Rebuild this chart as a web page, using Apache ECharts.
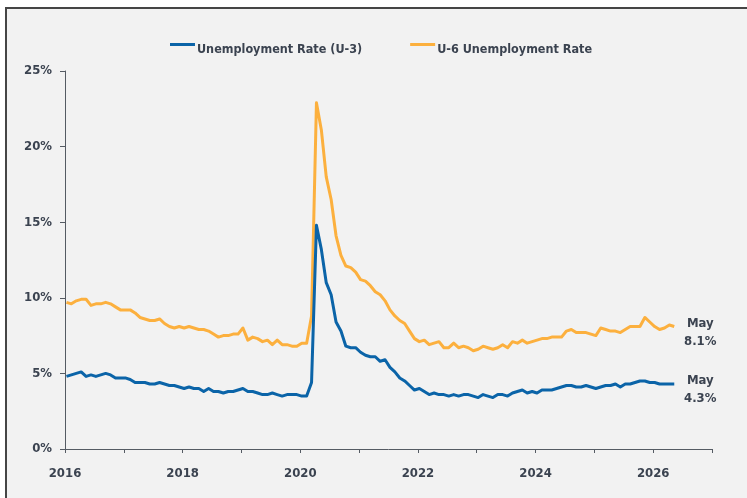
<!DOCTYPE html>
<html>
<head>
<meta charset="utf-8">
<script src="https://cdn.jsdelivr.net/npm/echarts@6/dist/echarts.min.js"></script>
<style>
  html, body { margin: 0; padding: 0; background: #ffffff; }
  #frame { position: absolute; left: 5px; top: 7px; width: 742px; height: 491px;
           background: #f2f2f2; border-top: 2px solid #454545; border-left: 2px solid #454545; box-sizing: border-box; }
  #chart { position: absolute; left: 0; top: 0; width: 747px; height: 498px; }
</style>
</head>
<body>
<div id="frame"></div>
<div id="chart"></div>
<script>
// ---- Data (monthly, starting Jan 2016, ending May 2026) ----
const startYear = 2016;
const monthNames = ['Jan','Feb','Mar','Apr','May','Jun','Jul','Aug','Sep','Oct','Nov','Dec'];
const seriesNames = ['Unemployment Rate (U-3)', 'U-6 Unemployment Rate'];
const yTicks = [0, 5, 10, 15, 20, 25];
const xYearLabels = [2016, 2018, 2020, 2022, 2024, 2026];

const u3 = [
  4.8, 4.9, 5.0, 5.1, 4.8, 4.9, 4.8, 4.9, 5.0, 4.9, 4.7, 4.7,
  4.7, 4.6, 4.4, 4.4, 4.4, 4.3, 4.3, 4.4, 4.3, 4.2, 4.2, 4.1,
  4.0, 4.1, 4.0, 4.0, 3.8, 4.0, 3.8, 3.8, 3.7, 3.8, 3.8, 3.9,
  4.0, 3.8, 3.8, 3.7, 3.6, 3.6, 3.7, 3.6, 3.5, 3.6, 3.6, 3.6,
  3.5, 3.5, 4.4, 14.8, 13.2, 11.0, 10.2, 8.4, 7.8, 6.8, 6.7, 6.7,
  6.4, 6.2, 6.1, 6.1, 5.8, 5.9, 5.4, 5.1, 4.7, 4.5, 4.2, 3.9,
  4.0, 3.8, 3.6, 3.7, 3.6, 3.6, 3.5, 3.6, 3.5, 3.6, 3.6, 3.5,
  3.4, 3.6, 3.5, 3.4, 3.6, 3.6, 3.5, 3.7, 3.8, 3.9, 3.7, 3.8,
  3.7, 3.9, 3.9, 3.9, 4.0, 4.1, 4.2, 4.2, 4.1, 4.1, 4.2, 4.1,
  4.0, 4.1, 4.2, 4.2, 4.3, 4.1, 4.3, 4.3, 4.4, 4.5, 4.5, 4.4,
  4.4, 4.3, 4.3, 4.3, 4.3
];

const u6 = [
  9.7, 9.6, 9.8, 9.9, 9.9, 9.5, 9.6, 9.6, 9.7, 9.6, 9.4, 9.2,
  9.2, 9.2, 9.0, 8.7, 8.6, 8.5, 8.5, 8.6, 8.3, 8.1, 8.0, 8.1,
  8.0, 8.1, 8.0, 7.9, 7.9, 7.8, 7.6, 7.4, 7.5, 7.5, 7.6, 7.6,
  8.0, 7.2, 7.4, 7.3, 7.1, 7.2, 6.9, 7.2, 6.9, 6.9, 6.8, 6.8,
  7.0, 7.0, 8.8, 22.9, 21.1, 18.0, 16.5, 14.1, 12.8, 12.1, 12.0, 11.7,
  11.2, 11.1, 10.8, 10.4, 10.2, 9.8, 9.2, 8.8, 8.5, 8.3, 7.8, 7.3,
  7.1, 7.2, 6.9, 7.0, 7.1, 6.7, 6.7, 7.0, 6.7, 6.8, 6.7, 6.5,
  6.6, 6.8, 6.7, 6.6, 6.7, 6.9, 6.7, 7.1, 7.0, 7.2, 7.0, 7.1,
  7.2, 7.3, 7.3, 7.4, 7.4, 7.4, 7.8, 7.9, 7.7, 7.7, 7.7, 7.6,
  7.5, 8.0, 7.9, 7.8, 7.8, 7.7, 7.9, 8.1, 8.1, 8.1, 8.7, 8.4,
  8.1, 7.9, 8.0, 8.2, 8.1
];

// observation day within month (~10th)
const obsDay = 10;
function toSeries(arr) {
  return arr.map((v, i) => [startYear + (i + (obsDay - 1) / 30) / 12, v]);
}

const textColor = '#3b4350';
const fontFam = "'Liberation Sans Narrow', 'DejaVu Sans Condensed', Roboto, sans-serif";
const colors = ['#0b64a8', '#fcb03e'];

const chart = echarts.init(document.getElementById('chart'), null, { renderer: 'canvas' });

function endLabel() {
  return {
    show: true,
    formatter: p => monthNames[(u3.length - 1) % 12] + '\n' + p.value[1].toFixed(1) + '%',
    color: textColor,
    fontFamily: fontFam,
    fontWeight: 'bold',
    fontSize: 13,
    lineHeight: 18,
    align: 'center',
    distance: 0,
    offset: [26, 6]
  };
}

const legendIcon = 'path://M0,0h25v3h-25zM0,13h0.01v0.01h-0.01z';

chart.setOption({
  animation: false,
  backgroundColor: 'transparent',
  color: colors,
  legend: {
    top: 38,
    left: 165,
    itemWidth: 25,
    itemHeight: 13,
    itemGap: 48,
    icon: legendIcon,
    textStyle: { color: textColor, fontFamily: fontFam, fontWeight: 'bold', fontSize: 12.5, padding: [0, 0, 0, -3] },
    data: seriesNames
  },
  grid: { left: 65, right: 35, top: 71, bottom: 49, containLabel: false },
  xAxis: {
    type: 'value',
    min: 2016,
    max: 2027,
    interval: 1,
    axisLine: { lineStyle: { color: '#555b63', width: 1 } },
    axisTick: { show: true, length: 4, lineStyle: { color: '#555b63' } },
    splitLine: { show: false },
    axisLabel: {
      color: textColor, fontFamily: fontFam, fontWeight: 'bold', fontSize: 13, margin: 18,
      formatter: v => xYearLabels.indexOf(v) >= 0 ? String(v) : ''
    }
  },
  yAxis: {
    type: 'value',
    min: yTicks[0],
    max: yTicks[yTicks.length - 1],
    interval: 5,
    axisLine: { show: true, lineStyle: { color: '#555b63', width: 1 } },
    axisTick: { show: true, length: 5, lineStyle: { color: '#555b63' } },
    splitLine: { show: false },
    axisLabel: {
      color: textColor, fontFamily: fontFam, fontWeight: 'bold', fontSize: 13, margin: 13,
      padding: [8, 0, 0, 0],
      formatter: '{value}%'
    }
  },
  series: [
    {
      name: seriesNames[0],
      type: 'line',
      data: toSeries(u3),
      showSymbol: false,
      symbol: 'none',
      z: 3,
      lineStyle: { width: 3, color: colors[0], join: 'round' },
      endLabel: endLabel()
    },
    {
      name: seriesNames[1],
      type: 'line',
      data: toSeries(u6),
      showSymbol: false,
      symbol: 'none',
      z: 2,
      lineStyle: { width: 3, color: colors[1], join: 'round' },
      endLabel: endLabel()
    }
  ]
});
</script>
</body>
</html>
